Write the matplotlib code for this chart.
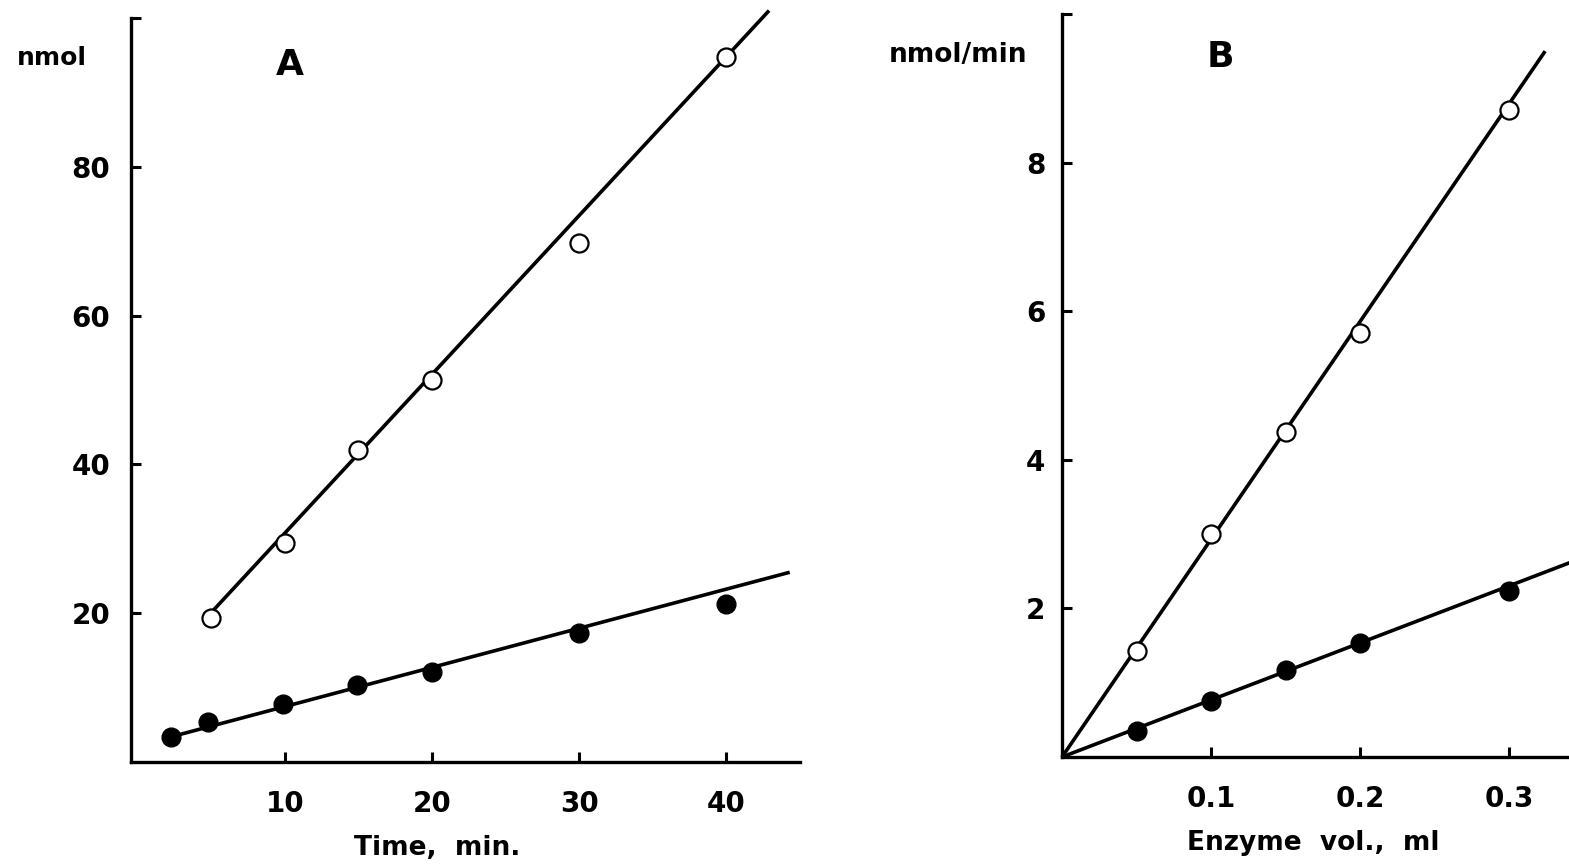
import numpy as np
import matplotlib
matplotlib.use("Agg")
import matplotlib.pyplot as plt

# Panel A: product formed vs time
time_open = [5, 10, 15, 20, 30, 40]
nmol_open = [19.3, 29.5, 41.9, 51.3, 69.7, 94.8]
time_filled = [2.3, 4.8, 9.9, 14.9, 20, 30, 40]
nmol_filled = [3.4, 5.4, 7.8, 10.3, 12.1, 17.3, 21.3]
# fitted lines (end points)
fitA_open_x = [5.1, 42.9]
fitA_open_y = [20.3, 101.0]
fitA_filled_x = [2.3, 44.3]
fitA_filled_y = [3.4, 25.5]

# Panel B: rate vs enzyme volume
vol_open = [0.05, 0.10, 0.15, 0.20, 0.30]
rate_open = [1.43, 3.0, 4.37, 5.71, 8.71]
vol_filled = [0.05, 0.10, 0.15, 0.20, 0.30]
rate_filled = [0.35, 0.75, 1.17, 1.54, 2.24]
fitB_open_x = [0.0, 0.324]
fitB_open_y = [0.0, 9.5]
fitB_filled_x = [0.0, 0.345]
fitB_filled_y = [0.0, 2.65]

plt.rcParams['font.family'] = ['DejaVu Sans']
plt.rcParams['font.weight'] = 'bold'

fig = plt.figure(figsize=(15.69, 8.68), dpi=100)

axA = fig.add_axes([131/1569, 106/868, 669/1569, 744/868])
axB = fig.add_axes([1062/1569, 111/868, 507/1569, 743/868])

def style(ax, ypad, xpad):
    for s in ['top', 'right']:
        ax.spines[s].set_visible(False)
    for s in ['left', 'bottom']:
        ax.spines[s].set_linewidth(2.4)
    ax.tick_params(direction='in', length=7, width=2.2, labelsize=20)
    ax.tick_params(axis='y', pad=ypad)
    ax.tick_params(axis='x', pad=xpad)
    for lab in ax.get_xticklabels() + ax.get_yticklabels():
        lab.set_fontweight('bold')

line_kw = dict(color='black', lw=2.6, solid_capstyle='butt')
open_kw = dict(ls='none', marker='o', ms=13, mfc='white', mec='black', mew=1.6, zorder=3)
fill_kw = dict(ls='none', marker='o', ms=13.5, mfc='black', mec='black', zorder=3)

# Panel A
axA.plot(fitA_open_x, fitA_open_y, clip_on=False, **line_kw)
axA.plot(fitA_filled_x, fitA_filled_y, clip_on=False, **line_kw)
axA.plot(time_open, nmol_open, clip_on=False, **open_kw)
axA.plot(time_filled, nmol_filled, clip_on=False, **fill_kw)
axA.set_xlim(-0.45, 45)
axA.set_ylim(0, 100)
axA.set_xticks([10, 20, 30, 40])
axA.set_xticklabels(['10', '20', '30', '40'])
axA.set_yticks([20, 40, 60, 80, 100])
axA.set_yticklabels(['20', '40', '60', '80', ''])
style(axA, 15, 20)

# Panel B
axB.plot(fitB_open_x, fitB_open_y, clip_on=False, **line_kw)
axB.plot(fitB_filled_x, fitB_filled_y, **line_kw)
axB.plot(vol_open, rate_open, clip_on=False, **open_kw)
axB.plot(vol_filled, rate_filled, clip_on=False, **fill_kw)
axB.set_xlim(0, 0.34)
axB.set_ylim(0, 10)
axB.set_xticks([0.1, 0.2, 0.3])
axB.set_xticklabels(['0.1', '0.2', '0.3'])
axB.set_yticks([2, 4, 6, 8, 10])
axB.set_yticklabels(['2', '4', '6', '8', ''])
style(axB, 12, 20)

# labels
fig.text(52/1569, 1 - 58/868, 'nmol', ha='center', va='center', fontsize=18, fontweight='bold')
fig.text(290/1569, 1 - 65/868, 'A', ha='center', va='center', fontsize=26, fontweight='bold')
fig.text(437/1569, 1 - 848/868, 'Time,  min.', ha='center', va='center', fontsize=19, fontweight='bold')
fig.text(958/1569, 1 - 55/868, 'nmol/min', ha='center', va='center', fontsize=19, fontweight='bold')
fig.text(1220/1569, 1 - 57/868, 'B', ha='center', va='center', fontsize=26, fontweight='bold')
fig.text(1313/1569, 1 - 843/868, 'Enzyme  vol.,  ml', ha='center', va='center', fontsize=19, fontweight='bold')

fig.savefig('out.png', dpi=100)
